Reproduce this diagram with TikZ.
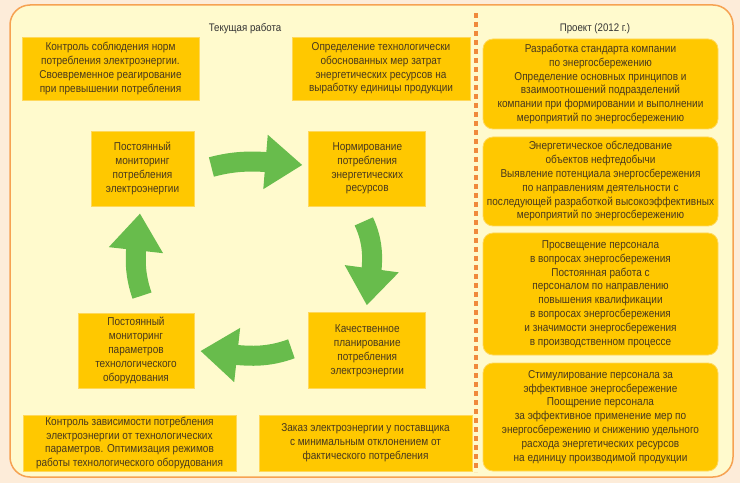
\documentclass[tikz,border=0pt]{standalone}
\usepackage{fontspec}
\setmainfont{Liberation Sans}[FakeStretch=0.88]
\usepackage{tikz}
\usetikzlibrary{arrows.meta,bending,positioning}
\definecolor{peach}{RGB}{253,236,217}
\definecolor{panelbg}{RGB}{255,250,205}
\definecolor{panelline}{RGB}{246,162,82}
\definecolor{dashline}{RGB}{240,138,60}
\definecolor{boxfill}{RGB}{255,200,0}
\definecolor{boxline}{RGB}{255,216,90}
\definecolor{arrowgreen}{RGB}{104,188,76}
\definecolor{txt}{RGB}{72,56,30}
\tikzstyle{boxy} = [rectangle, fill=boxfill, draw=boxline, line width=0.8pt, text=txt,
align=center, inner sep=2pt, font=\fontsize{11.4}{13.8}\selectfont]
\tikzstyle{boxyround} = [boxy, rounded corners=10pt, minimum width=235pt]
\tikzstyle{heading} = [text=black!80, font=\fontsize{11}{13}\selectfont]
\tikzstyle{bigarrow} = [line width=20pt, draw=arrowgreen, -{Triangle[length=37pt,width=52pt,flex=1]}]

\begin{document}
\begin{tikzpicture}[x=1pt,y=1pt]
        \fill [peach] (0,0) rectangle (740,483);
        \draw [panelline, line width=1.5pt, fill=panelbg, rounded corners=20pt] (10,6) rectangle (733,478);
        \draw [dashline, line width=4pt, dash pattern=on 5pt off 4pt] (476,470) -- (476,11);
        %
        \node (curhead) [heading] at (245,454) {Текущая работа};
        \node (projhead) [heading] at (595,454) {Проект (2012 г.)};
        %
        \node (ctrlnorm) [boxy, minimum width=177pt, minimum height=63pt] at (110.5,414.5) {Контроль соблюдения норм\\потребления электроэнергии.\\Своевременное реагирование\\при превышении потребления};
        \node (techmeas) [boxy, minimum width=178pt, minimum height=63pt] at (381,414.5) {Определение технологически\\обоснованных мер затрат\\энергетических ресурсов на\\выработку единицы продукции};
        \node (moncons) [boxy, minimum width=103pt, minimum height=75pt] at (142.5,314.5) {Постоянный\\мониторинг\\потребления\\электроэнергии};
        \node (normres) [boxy, minimum width=117pt, minimum height=75pt, right=114pt of moncons] {Нормирование\\потребления\\энергетических\\ресурсов};
        \node (planning) [boxy, minimum width=117pt, minimum height=76pt, below=106pt of normres] {Качественное\\планирование\\потребления\\электроэнергии};
        \node (monequip) [boxy, minimum width=116pt, minimum height=75pt] at (136,132.5) {Постоянный\\мониторинг\\параметров\\технологического\\оборудования};
        \node (ctrldep) [boxy, minimum width=213pt, minimum height=56pt] at (129.5,40) {Контроль зависимости потребления\\электроэнергии от технологических\\параметров. Оптимизация режимов\\работы технологического оборудования};
        \node (order) [boxy, minimum width=213pt, minimum height=56pt] at (365.5,40) {Заказ электроэнергии у поставщика\\с минимальным отклонением от\\фактического потребления};
        %
        \node (standard) [boxyround, minimum height=90pt] at (600.5,399) {Разработка стандарта компании\\по энергосбережению\\Определение основных принципов и\\взаимоотношений подразделений\\компании при формировании и выполнении\\мероприятий по энергосбережению};
        \node (audit) [boxyround, minimum height=89pt] at (600.5,301.5) {Энергетическое обследование\\объектов нефтедобычи\\Выявление потенциала энергосбережения\\по направлениям деятельности с\\последующей разработкой высокоэффективных\\мероприятий по энергосбережению};
        \node (training) [boxyround, minimum height=122pt] at (600.5,189) {Просвещение персонала\\в вопросах энергосбережения\\Постоянная работа с\\персоналом по направлению\\повышения квалификации\\в вопросах энергосбережения\\и значимости энергосбережения\\в производственном процессе};
        \node (incent) [boxyround, minimum height=108pt] at (600.5,66) {Стимулирование персонала за\\эффективное энергосбережение\\Поощрение персонала\\за эффективное применение мер по\\энергосбережению и снижению удельного\\расхода энергетических ресурсов\\на единицу производимой продукции};
        %
        \draw [bigarrow] ([xshift=17pt,yshift=1.5pt]moncons.east) to[out=15,in=176] ([xshift=-6pt,yshift=3.5pt]normres.west);
        \draw [bigarrow] ([xshift=-3.5pt,yshift=-15pt]normres.south) to[out=-65,in=83] ([xshift=-0.5pt,yshift=7pt]planning.north);
        \draw [bigarrow] ([xshift=-17pt,yshift=2pt]planning.west) to[out=-160,in=-5] ([xshift=6pt,yshift=-0.5pt]monequip.east);
        \draw [bigarrow] ([xshift=6pt,yshift=17pt]monequip.north) to[out=109,in=-96] ([xshift=-2.5pt,yshift=-7pt]moncons.south);
\end{tikzpicture}
\end{document}
